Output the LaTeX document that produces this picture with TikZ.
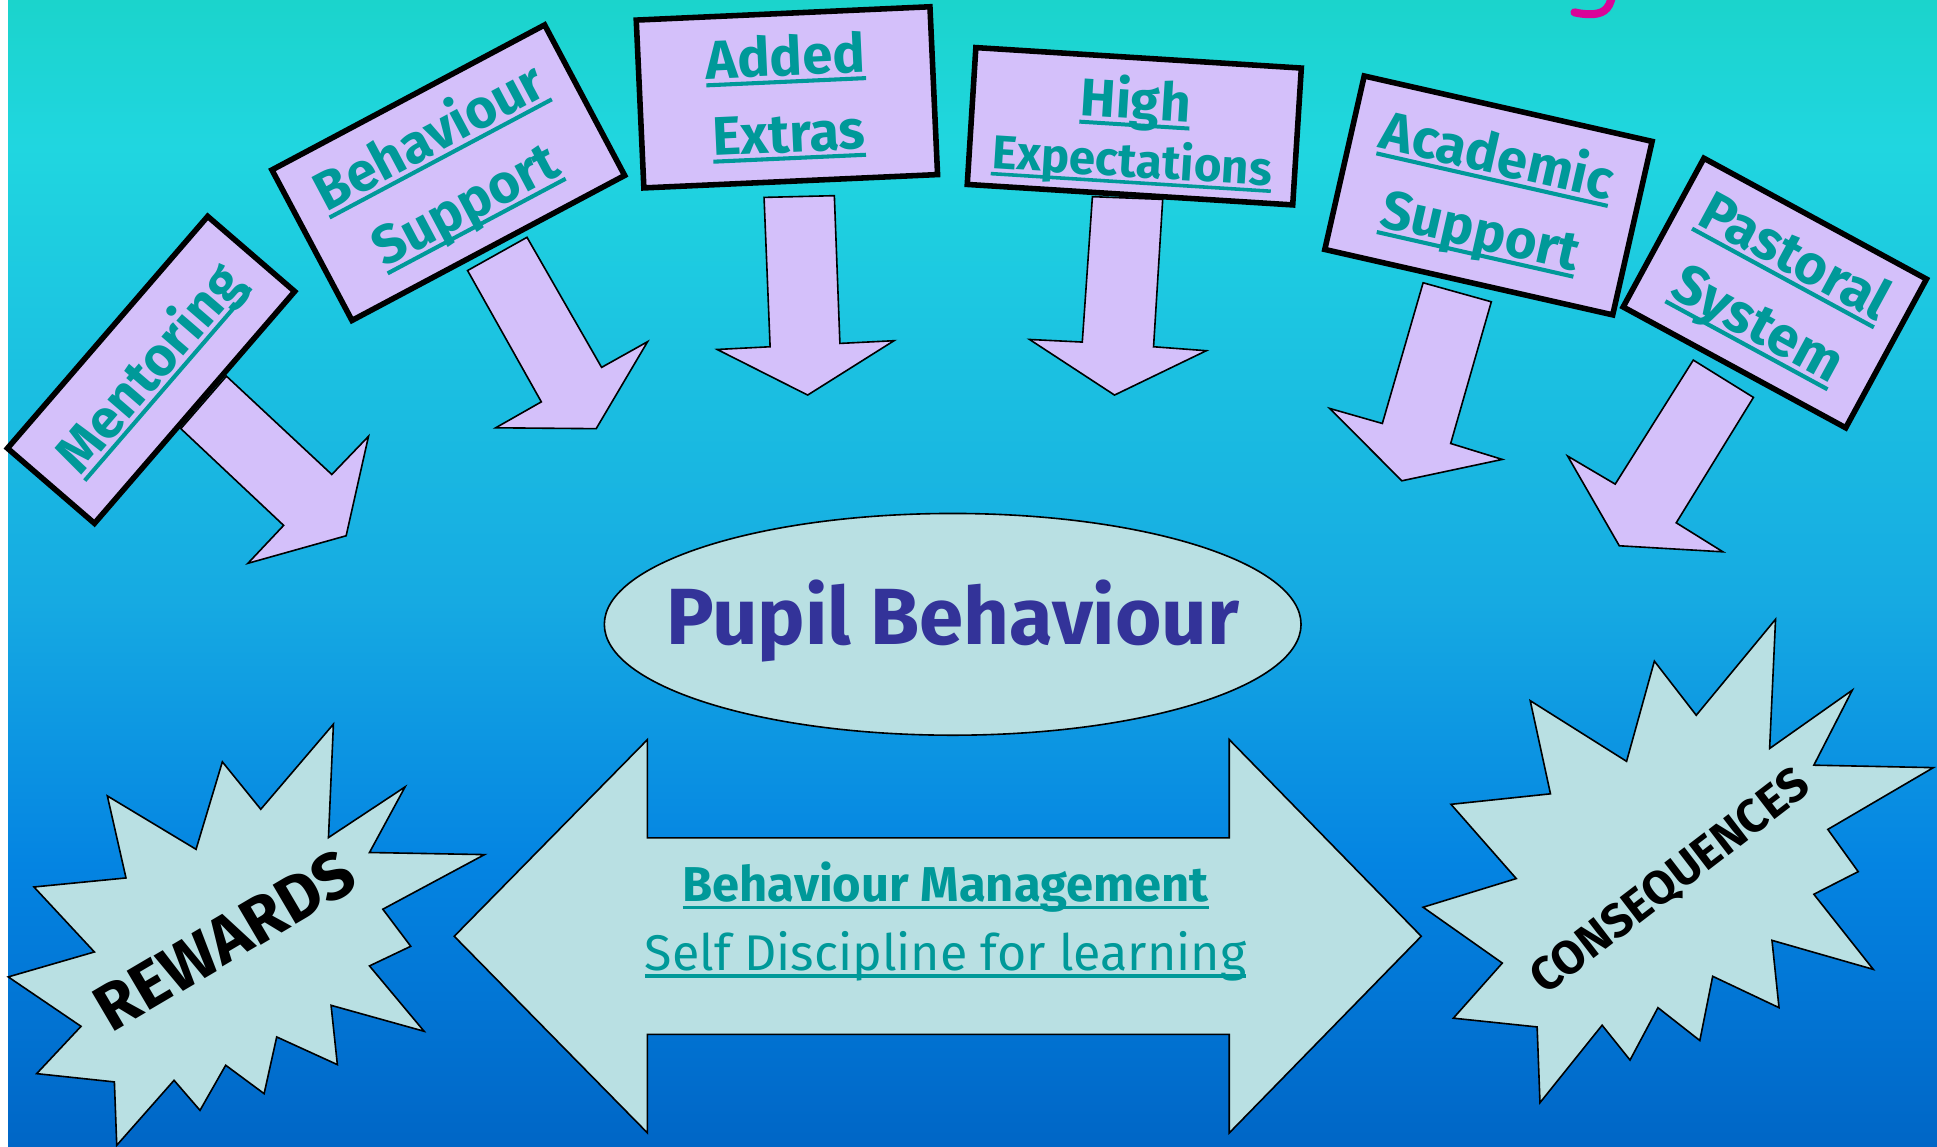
\documentclass[tikz,border=0pt]{standalone}
\usepackage{fontspec}
\setmainfont{Fira Sans}
\usetikzlibrary{shapes.geometric}
\definecolor{lav}{RGB}{212,192,250}
\definecolor{pale}{RGB}{185,224,227}
\definecolor{tealtxt}{RGB}{0,153,153}
\definecolor{navy}{RGB}{51,51,153}
\definecolor{magent}{RGB}{218,4,152}
\definecolor{bga}{RGB}{27,212,204}
\definecolor{bgb}{RGB}{32,214,224}
\definecolor{bgc}{RGB}{22,170,226}
\definecolor{bgd}{RGB}{4,132,226}
\definecolor{bge}{RGB}{0,102,198}
\newlength\ulwd
\newcommand\ulx[1]{\settowidth\ulwd{#1}\makebox[0pt][l]{\rule[-0.15em]{\ulwd}{0.075em}}#1}
\tikzset{
  signbox/.style={draw=black, line width=4.5pt, fill=lav, inner sep=0pt, outer sep=0pt,
    align=center, text=tealtxt, font=\fontsize{44}{62}\selectfont\bfseries},
  fatarrow/.style={draw=black, line width=1.3pt, fill=lav, line join=miter},
  paleshape/.style={draw=black, line width=1.3pt, fill=pale},
}
\begin{document}
\begin{tikzpicture}[x=1pt,y=-1pt]
\useasboundingbox (0,0) rectangle (1568,928);
% background
\fill[white] (0,0) rectangle (1568,928);
\shade[top color=bga, bottom color=bgb] (6.5,0) rectangle (1568,120);
\shade[top color=bgb, bottom color=bgc] (6.5,119.5) rectangle (1568,486);
\shade[top color=bgc, bottom color=bgd] (6.5,485.5) rectangle (1568,700);
\shade[top color=bgd, bottom color=bge] (6.5,699.5) rectangle (1568,928);
% cut-off title glyph
\draw[magent, line width=6.5pt, line cap=round] (1305,-4) .. controls (1303,9) and (1296,11.5) .. (1287,11.5) .. controls (1282,11.5) and (1278,10.8) .. (1274.5,10);
% arrows from signs
\draw[fatarrow] (146.4,347) -- (229.6,425.3) -- (200.7,456) -- (280.2,433.7) -- (298.3,353.2) -- (268.6,384.1) -- (183.3,304.5) -- cycle;
\draw[fatarrow] (378.5,219) -- (438.2,325.3) -- (401.3,346.3) -- (482.6,347) -- (524.2,276.6) -- (487,297.4) -- (426.6,192.1) -- cycle;
\draw[fatarrow] (618.5,159.8) -- (623.4,280.7) -- (580.6,282.9) -- (653.8,319.8) -- (723.7,275.8) -- (679.9,278) -- (675.4,158.4) -- cycle;
\draw[fatarrow] (884.3,159.2) -- (876.1,276.9) -- (833.4,274.8) -- (902.2,319.8) -- (976.5,283.9) -- (933.8,280.7) -- (941.2,161.4) -- cycle;
\draw[fatarrow] (1152,228.9) -- (1119,342.8) -- (1076.3,330.6) -- (1134.8,389.2) -- (1216.1,371.9) -- (1174.3,359) -- (1207.2,244.3) -- cycle;
\draw[fatarrow] (1370.7,291.5) -- (1307.5,391.9) -- (1269,369.2) -- (1310.8,441.8) -- (1394.7,446.7) -- (1356.9,423.2) -- (1419.4,321.7) -- cycle;
% signs
\node[signbox, minimum width=248, minimum height=93, rotate=49.2, font=\fontsize{44}{62}\selectfont\bfseries] (mentor) at (122.3,299.4) {\ulx{Mentoring}};
\node[signbox, minimum width=250, minimum height=138, rotate=28] (behsup) at (362.9,139.8) {\ulx{Behaviour}\\\ulx{Support}};
\node[signbox, minimum width=238, minimum height=136, rotate=2.6] (added) at (637,78.8) {\ulx{Added}\\\ulx{Extras}};
\node[signbox, minimum width=264, minimum height=111, rotate=-3.6, font=\fontsize{38.5}{47}\selectfont\bfseries] (highexp) at (918.2,102.2) {{\fontsize{43}{47}\selectfont\rule{0pt}{44pt}\ulx{High}}\\\ulx{Expectations}};
\node[signbox, minimum width=239, minimum height=144, rotate=-12.8] (acad) at (1204.9,158.2) {\ulx{Academic}\\\ulx{Support}};
\node[signbox, minimum width=205, minimum height=137, rotate=-28.5, font=\fontsize{45}{62}\selectfont\bfseries] (past) at (1436.7,237.2) {\ulx{Pastoral}\\\ulx{System}};
% central ellipse
\node[ellipse, paleshape, minimum width=564, minimum height=179.5, inner sep=0pt] (pupil) at (771.2,505.4) {};
\node[anchor=base, text=navy, font=\fontsize{64.5}{70}\selectfont\bfseries, inner sep=0pt] (pupiltxt) at (771.4,521.5) {Pupil Behaviour};
% double arrow
\draw[paleshape] (367.7,757.9) -- (524.1,598.7) -- (524.1,678.3) -- (995.1,678.3) -- (995.1,598.7) -- (1150.5,757.9) -- (995.1,917.1) -- (995.1,837.3) -- (524.1,837.3) -- (524.1,917.1) -- cycle;
\node[anchor=base, text=tealtxt, font=\fontsize{39.6}{45}\selectfont\bfseries, inner sep=0pt] (bm) at (765.5,730.1) {\ulx{Behaviour Management}};
\node[anchor=base, text=tealtxt, font=\fontsize{40.6}{45}\selectfont, inner sep=0pt] (sd) at (765.3,785.4) {\ulx{Self Discipline for learning}};
% stars
\draw[paleshape] (269.9,586.2) -- (265.9,678.0) -- (327.9,637.0) -- (299.1,690.1) -- (392.2,691.8) -- (309.9,736.0) -- (332.5,766.0) -- (299.1,781.9) -- (343.3,834.8) -- (268.0,813.8) -- (273.1,861.8) -- (224.0,839.4) -- (213.8,885.3) -- (182.7,862.3) -- (161.9,898.8) -- (140.9,874.5) -- (94.5,927.1) -- (92.6,875.8) -- (29.7,869.1) -- (65.6,830.8) -- (6.7,790.8) -- (76.4,770.6) -- (27.5,718.0) -- (102.0,710.7) -- (86.9,644.3) -- (158.7,687.5) -- (180.0,616.7) -- (211.1,655.1) -- cycle;
\draw[paleshape] (1437.3,501.3) -- (1432.5,605.9) -- (1499.4,558.7) -- (1468.3,619.4) -- (1565,621.4) -- (1479.6,671.4) -- (1504.2,705.6) -- (1468.3,723.9) -- (1516.4,784.7) -- (1434.4,761.2) -- (1440.1,815.7) -- (1386.4,790.3) -- (1376.0,842.3) -- (1342.1,815.7) -- (1319.5,858.1) -- (1296.9,829.9) -- (1246.6,892.6) -- (1244.3,831.3) -- (1176.5,824.2) -- (1216.1,779.6) -- (1152.0,734.4) -- (1227.4,711.2) -- (1174.6,651.1) -- (1255.1,642.6) -- (1238.7,567.2) -- (1316.7,616.3) -- (1339.2,535.2) -- (1373.1,579.0) -- cycle;
\node[rotate=30.5, font=\fontsize{53}{60}\selectfont\bfseries, inner sep=0pt] (rew) at (182,761) {REWARDS};
\node[rotate=37.5, font=\fontsize{38}{45}\selectfont\bfseries, inner sep=0pt] (cons) at (1352.5,714.6) {CONSEQUENCES};
\end{tikzpicture}
\end{document}
